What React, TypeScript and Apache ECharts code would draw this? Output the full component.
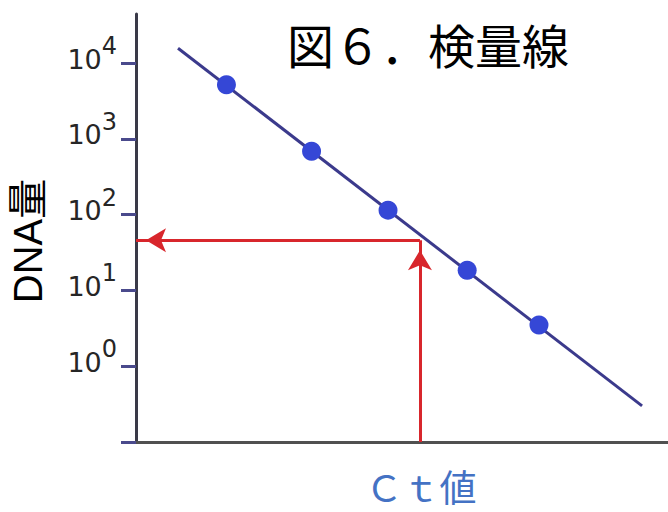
import React, { useEffect, useRef } from "react";
import * as echarts from "echarts";

// Standard samples: Ct value vs DNA amount
const standardCt = [6.8, 13.2, 18.95, 24.9, 30.3];
const standardDna = [5200, 690, 115, 18.5, 3.5];

// Calibration (regression) line end points
const fitCt = [3.16, 38.05];
const fitDna = [15800, 0.3];

// Unknown sample reading
const sampleCt = 21.35;
const sampleDna = 46;

// Axis ticks (exponents of 10)
const tickExponents = [-1, 0, 1, 2, 3, 4];
const labelExponents = [0, 1, 2, 3, 4];

const title = "図６．検量線";
const yName = "DNA量";
const xName = "Ｃｔ値";

const lg = (v: number) => Math.log10(v);

export default function App() {
  const ref = useRef<HTMLDivElement>(null);
  useEffect(() => {
    if (!ref.current) return;
    const chart = echarts.init(ref.current, null, { renderer: "svg" });
    const red = "#d8262c";
    chart.setOption({
      animation: false,
      backgroundColor: "#ffffff",
      grid: {
        left: 136,
        right: 0,
        top: 14,
        bottom: 70,
        containLabel: false,
        outerBoundsMode: "none",
      },
      xAxis: {
        type: "value",
        min: 0,
        max: 40,
        axisLine: { show: true, onZero: false, lineStyle: { color: "#505050", width: 3 } },
        axisTick: { show: false },
        axisLabel: { show: false },
        splitLine: { show: false },
      },
      yAxis: {
        type: "value",
        min: -1,
        max: 4.65,
        interval: 1,
        name: yName,
        nameLocation: "middle",
        nameGap: 88,
        nameRotate: 90,
        nameTextStyle: {
          fontSize: 40,
          color: "#000",
          fontFamily: "Liberation Sans, Noto Sans CJK JP, sans-serif",
          padding: [0, 26, 0, 0],
        },
        axisLine: { show: true, onZero: false, lineStyle: { color: "#3a3a48", width: 3 } },
        axisTick: {
          show: true,
          customValues: tickExponents,
          length: 15,
          lineStyle: { color: "#4a4a8c", width: 3 },
        },
        axisLabel: {
          show: true,
          customValues: labelExponents,
          margin: 19,
          formatter: (v: number) => `{b|10}{s|${Math.round(v)}}`,
          rich: {
            b: {
              fontSize: 27,
              lineHeight: 28,
              color: "#262626",
              fontFamily: "DejaVu Sans",
              padding: [0, 0, 8, 0],
            },
            s: {
              fontSize: 24,
              lineHeight: 24,
              color: "#262626",
              fontFamily: "DejaVu Sans",
              padding: [0, 0, 34, 0],
            },
          },
        },
        splitLine: { show: false },
      },
      series: [
        {
          type: "line",
          name: "fit",
          data: fitCt.map((c, i) => [c, lg(fitDna[i])]),
          symbol: "none",
          lineStyle: { color: "#3b3a8c", width: 3 },
          z: 2,
          silent: true,
          markLine: {
            silent: true,
            symbol: ["none", "arrow"],
            symbolSize: [18, 20],
            symbolOffset: [
              [0, 0],
              [0, 10],
            ],
            label: { show: false },
            lineStyle: { color: red, width: 3, type: "solid" },
            emphasis: { disabled: true },
            data: [
              [
                { coord: [sampleCt, lg(sampleDna)] },
                { coord: [0, lg(sampleDna)] },
              ],
              [
                { coord: [sampleCt, tickExponents[0]] },
                { coord: [sampleCt, lg(sampleDna)] },
              ],
            ],
          },
        },
        {
          type: "scatter",
          name: "standards",
          data: standardCt.map((c, i) => [c, lg(standardDna[i])]),
          symbolSize: 19,
          itemStyle: { color: "#3547d6", opacity: 1 },
          z: 5,
          silent: true,
        },
      ],
      graphic: [
        {
          type: "text",
          x: 428,
          y: 43,
          style: {
            text: title,
            fontSize: 47,
            fontFamily: "Noto Sans CJK JP",
            fill: "#000",
            align: "center",
            verticalAlign: "middle",
          },
        },
        {
          type: "text",
          x: 421,
          y: 486,
          style: {
            text: xName,
            fontSize: 37,
            fontFamily: "Noto Sans CJK JP",
            fill: "#4472c4",
            align: "center",
            verticalAlign: "middle",
          },
        },
      ],
    });
    return () => chart.dispose();
  }, []);
  return (
    <div
      ref={ref}
      style={{ position: "fixed", left: 0, top: 0, width: 668, height: 512 }}
    />
  );
}
